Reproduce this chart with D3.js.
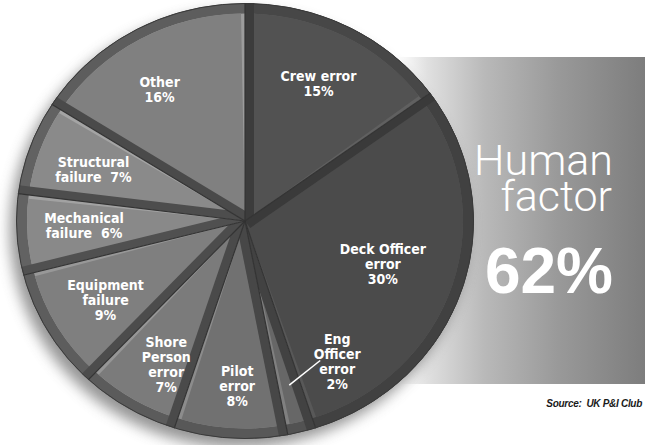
<!DOCTYPE html>
<html lang="en">
<head>
<meta charset="UTF-8">
<title>Causes of claims - Human factor</title>
<script src="https://cdnjs.cloudflare.com/ajax/libs/d3/7.8.5/d3.min.js"></script>
<style>
    body { margin: 0; background: #fff; overflow: hidden; }
    svg { display: block; }
    .lbl {
        font-family: "Liberation Sans Narrow", "DejaVu Sans Condensed", sans-serif;
        font-weight: bold;
        font-size: 14px;
        fill: #fff;
    }
</style>
</head>
<body>
<div id="chart"></div>
<script>
// Data
const causes = ["Crew error", "Deck Officer error", "Eng Officer error", "Pilot error",
    "Shore Person error", "Equipment failure", "Mechanical failure", "Structural failure", "Other"];
const shares = [15, 30, 2, 8, 7, 9, 6, 7, 16];
const labelLines = [
    ["Crew error", "15%"],
    ["Deck Officer", "error", "30%"],
    ["Eng", "Officer", "error", "2%"],
    ["Pilot", "error", "8%"],
    ["Shore", "Person", "error", "7%"],
    ["Equipment", "failure", "9%"],
    ["Mechanical", "failure  6%"],
    ["Structural", "failure  7%"],
    ["Other", "16%"]
];
const panelTitle = ["Human", "factor"];
const humanShare = "62%";
const sourceText = "Source:  UK P&I Club";

// Layout
const width = 645, height = 445;
const cx = 245, cy = 221, R = 229, ry = 218;
const k = ry / R;
const rim = 11;

// per-slice shading: face, light wall, dark wall, rim
const faceCol = ["#525252", "#4b4b4b", "#676767", "#717171", "#7b7b7b", "#7f7f7f", "#898989", "#8a8a8a", "#808080"];
const lightCol = ["#606060", "#585858", "#808080", "#8c8c8c", "#969696", "#989898", "#a2a2a2", "#a4a4a4", "#9c9c9c"];
const darkCol = ["#3c3c3c", "#3a3a3a", "#424242", "#474747", "#4a4a4a", "#4c4c4c", "#505050", "#4d4d4d", "#4a4a4a"];
const rimCol = ["#474747", "#414141", "#525252", "#585858", "#5b5b5b", "#5d5d5d", "#626262", "#626262", "#5d5d5d"];

// label placement (radius in circle units, angle shift in degrees)
const labelRadius = [162, 145, 174, 173, 170, 162, 161, 161, 162];
const labelShift = [0, 0, -17.6, -1, -3, 0, 2, 0, -3];

const svg = d3.select("#chart").append("svg")
    .attr("width", width)
    .attr("height", height);

const defs = svg.append("defs");

const grad = defs.append("linearGradient").attr("id", "panelGrad")
    .attr("x1", "0%").attr("x2", "100%").attr("y1", "0%").attr("y2", "0%");
[[0, "#ffffff"], [0.12, "#e0e0e0"], [0.35, "#b9b9b9"], [0.65, "#999999"], [1, "#7d7d7d"]]
    .forEach(s => grad.append("stop").attr("offset", s[0]).attr("stop-color", s[1]));

defs.append("filter").attr("id", "blur")
    .attr("x", "-20%").attr("y", "-20%").attr("width", "140%").attr("height", "140%")
    .append("feGaussianBlur").attr("stdDeviation", 7);

// Right panel
svg.append("rect")
    .attr("x", 398).attr("y", 57)
    .attr("width", width - 398).attr("height", 327)
    .attr("fill", "url(#panelGrad)");

// "Human factor" as one text block, two lines
const title = svg.append("text")
    .attr("text-anchor", "end")
    .style("font-family", "Roboto, 'Open Sans', sans-serif")
    .style("font-weight", 300)
    .style("font-size", "43px")
    .attr("fill", "#fff");
title.append("tspan").attr("x", 613).attr("y", 175).text(panelTitle[0]);
title.append("tspan").attr("x", 612).attr("y", 211).text(panelTitle[1]);

svg.append("text")
    .attr("x", 613).attr("y", 293)
    .attr("text-anchor", "end")
    .style("font-family", "'Liberation Sans', Arial, sans-serif")
    .style("font-weight", "bold")
    .style("font-size", "64px")
    .attr("fill", "#fff")
    .text(humanShare);

svg.append("text")
    .attr("x", 642).attr("y", 407)
    .attr("text-anchor", "end")
    .style("font-family", "'Liberation Sans', Arial, sans-serif")
    .style("font-style", "italic")
    .style("font-weight", "bold")
    .style("font-size", "10px")
    .style("letter-spacing", "-0.3px")
    .style("white-space", "pre")
    .attr("fill", "#1a1a1a")
    .text(sourceText);

// Pie
const pie = d3.pie().sort(null).value(d => d);
const arcs = pie(shares);

const g = svg.append("g")
    .attr("transform", `translate(${cx},${cy}) scale(1,${k})`);

// soft shadow
g.append("circle")
    .attr("cx", -6).attr("cy", 9).attr("r", R)
    .attr("fill", "#7a7a7a")
    .attr("opacity", 0.8)
    .attr("filter", "url(#blur)");

const fullArc = d3.arc().innerRadius(0).outerRadius(R);
const rimArc = d3.arc().innerRadius(R - rim).outerRadius(R);
const faceArc = d3.arc().innerRadius(0).outerRadius(R - rim)
    .padAngle(0.08).padRadius(100);

arcs.forEach((a, i) => {
    defs.append("clipPath").attr("id", "clip" + i)
        .append("path").attr("d", fullArc(a));
});

const slice = g.selectAll(".slice")
    .data(arcs)
    .join("g")
    .attr("class", "slice")
    .attr("clip-path", (d, i) => `url(#clip${i})`);

slice.append("path")
    .attr("d", fullArc)
    .attr("fill", (d, i) => lightCol[i]);

slice.append("path")
    .attr("d", rimArc)
    .attr("fill", (d, i) => rimCol[i]);

slice.append("path")
    .attr("d", faceArc)
    .attr("fill", (d, i) => faceCol[i]);

// dark wall along the start edge of each slice
const wall = 9;
slice.append("path")
    .attr("d", d => {
        const a = d.startAngle;
        const ux = Math.sin(a), uy = -Math.cos(a);
        const nx = Math.cos(a), ny = Math.sin(a);
        return `M0,0L${R * ux},${R * uy}L${R * ux + wall * nx},${R * uy + wall * ny}L${wall * nx},${wall * ny}Z`;
    })
    .attr("fill", (d, i) => darkCol[i]);

// boundaries
g.selectAll(".sep")
    .data(arcs)
    .join("line")
    .attr("class", "sep")
    .attr("x1", 0).attr("y1", 0)
    .attr("x2", d => R * Math.sin(d.startAngle))
    .attr("y2", d => -R * Math.cos(d.startAngle))
    .attr("stroke", "#333")
    .attr("stroke-width", 1.2);

g.append("circle")
    .attr("r", R - 0.5)
    .attr("fill", "none")
    .attr("stroke", "#3a3a3a")
    .attr("stroke-width", 1);

// Labels
function polar(angle, r) {
    return [cx + r * Math.sin(angle), cy - r * Math.cos(angle) * k];
}

const lineH = 15;
arcs.forEach((a, i) => {
    const mid = (a.startAngle + a.endAngle) / 2 + labelShift[i] * Math.PI / 180;
    const [x, y] = polar(mid, labelRadius[i]);
    const lines = labelLines[i];
    const t = svg.append("text")
        .attr("class", "lbl")
        .attr("text-anchor", "middle")
        .attr("x", x)
        .attr("y", y - (lines.length - 1) * lineH / 2 + 5);
    lines.forEach((l, j) => {
        t.append("tspan")
            .attr("x", x)
            .attr("dy", j === 0 ? 0 : lineH)
            .style("white-space", "pre")
            .text(l);
    });
    if (i === 2) {
        const m = (a.startAngle + a.endAngle) / 2;
        const [sx, sy] = polar(m, 178);
        svg.append("line")
            .attr("x1", sx).attr("y1", sy)
            .attr("x2", x - 17).attr("y2", y - 1)
            .attr("stroke", "#fff")
            .attr("stroke-width", 1.5);
    }
});
</script>
</body>
</html>
